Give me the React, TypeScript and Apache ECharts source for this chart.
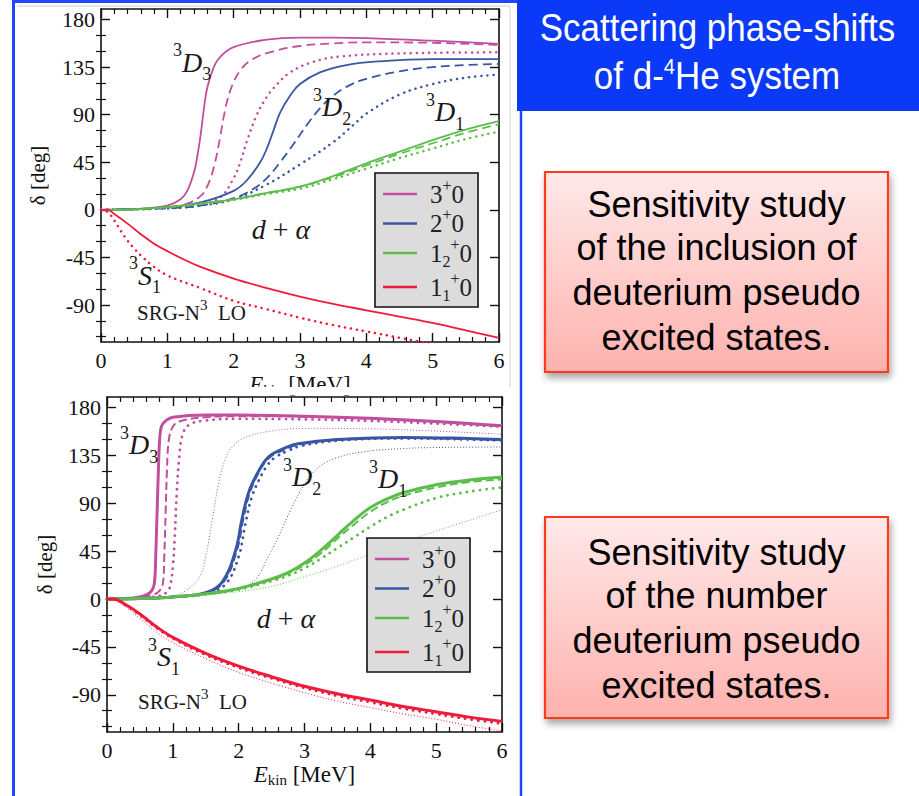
import React, { useEffect, useRef } from "react";
import * as echarts from "echarts";

const SERIF = '"Liberation Serif", "Times New Roman", serif';
const SANS = '"Liberation Sans", Arial, Helvetica, sans-serif';

const MAG = "#c24f9e";
const BLU = "#3a55a4";
const GRN = "#5dbd4b";
const RED = "#ee1b3a";

const xTicks = [0, 1, 2, 3, 4, 5, 6];
const yMajor = [-90, -45, 0, 45, 90, 135, 180];
const yMinor = [-120, -105, -75, -60, -30, -15, 15, 30, 60, 75, 105, 120, 150, 165];
const legendNames = ["3+0", "2+0", "1_2+0", "1_1+0"];

// ---------- top panel (inclusion of pseudo states) ----------
const topD3Solid = [[0, 0], [0.5, 0.5], [1.0, 4], [1.2, 10], [1.3, 18], [1.4, 35], [1.45, 50], [1.5, 70], [1.55, 95], [1.6, 115], [1.7, 135], [1.8, 145], [2.0, 154], [2.5, 161], [3.0, 163], [3.5, 163], [4.0, 162.5], [5.0, 160], [6.0, 157]];
const topD3Dashed = [[0, 0], [1, 2], [1.3, 6], [1.5, 13], [1.6, 22], [1.7, 40], [1.8, 70], [1.85, 88], [1.95, 113], [2.1, 132], [2.3, 143], [2.6, 150], [3.0, 155], [3.5, 157.5], [4, 158.5], [5, 158], [6, 156]];
const topD3Dotted = [[0, 0], [1, 1.5], [1.5, 5], [1.8, 12], [2.0, 30], [2.1, 45], [2.2, 65], [2.35, 90], [2.5, 107], [2.6, 115], [2.85, 130], [3.2, 140], [3.6, 145], [4.5, 148], [6, 149]];
const topD2Solid = [[0, 0], [1, 2.5], [1.5, 7], [2.0, 18], [2.2, 28], [2.4, 45], [2.5, 58], [2.6, 75], [2.7, 92], [2.85, 108], [3.0, 119], [3.3, 130], [3.7, 137], [4.2, 140.5], [5, 142.5], [6, 142.5]];
const topD2Dashed = [[0, 0], [1, 1.5], [1.5, 4], [2.0, 11], [2.3, 20], [2.5, 30], [2.7, 45], [2.9, 62], [3.1, 80], [3.3, 96], [3.5, 108], [3.75, 118], [4.0, 124], [4.5, 131], [5, 135], [5.5, 137], [6, 138]];
const topD2Dotted = [[0, 0], [1, 1.5], [1.5, 4], [2.0, 10], [2.5, 24], [3.0, 43], [3.5, 64], [3.8, 80], [4.0, 91], [4.5, 109], [5.0, 119], [5.5, 125], [6.0, 128]];
const topD1Solid = [[0, 0], [0.5, 0.5], [1, 2.5], [1.5, 6], [2, 10], [2.5, 16], [3, 22], [3.5, 32], [4, 44], [4.5, 55], [5, 66], [5.5, 76], [6, 84]];
const topD1Dashed = [[0, 0], [0.5, 0.5], [1, 2.5], [1.5, 6], [2, 10], [2.5, 16], [3, 22], [3.5, 31], [4, 42], [4.5, 53], [5, 63], [5.5, 73], [6, 81]];
const topD1Dotted = [[0, 0], [0.5, 0.5], [1, 2.5], [1.5, 5.5], [2, 9.5], [2.5, 15], [3, 20], [3.5, 29], [4, 39], [4.5, 49], [5, 58], [5.5, 67], [6, 74]];
const topS1Solid = [[0, 0], [0.1, 0], [0.2, -4], [0.4, -13], [0.6, -23], [0.8, -32], [1.0, -39], [1.25, -47], [1.5, -54], [2.0, -65], [2.5, -74], [3.0, -82], [3.5, -89], [4.0, -95], [4.5, -101], [5.0, -107], [5.5, -114], [6.0, -121]];
const topS1Dotted = [[0, 0], [0.1, -2], [0.2, -10], [0.3, -20], [0.4, -29], [0.5, -36.5], [0.6, -43], [0.75, -51.5], [1.0, -62], [1.5, -74], [2.0, -86], [2.5, -94], [3.0, -102], [3.5, -109], [4.0, -115], [4.5, -121], [5.0, -127], [5.5, -133], [6.0, -138]];

// ---------- bottom panel (number of pseudo states) ----------
const botD3Solid = [[0, 0], [0.3, 0.5], [0.5, 2], [0.6, 4], [0.68, 8], [0.72, 15], [0.74, 40], [0.76, 80], [0.78, 120], [0.8, 150], [0.83, 163], [0.9, 168], [1.0, 171], [1.5, 173], [2.0, 173], [3.0, 172], [4.0, 170], [5.0, 167], [6.0, 163]];
const botD3Dashed = [[0, 0], [0.5, 1.5], [0.7, 4], [0.8, 8], [0.85, 15], [0.87, 40], [0.89, 80], [0.91, 120], [0.94, 150], [1.0, 162], [1.1, 167], [1.5, 171], [2, 172], [3, 171.5], [4, 169.5], [5, 166.5], [6, 162.5]];
const botD3Dotted = [[0, 0], [0.5, 1], [0.8, 3], [0.9, 6], [0.95, 10], [1.0, 30], [1.03, 60], [1.06, 100], [1.1, 135], [1.15, 155], [1.25, 164], [1.5, 168], [2, 169.5], [3, 169], [4, 167.5], [5, 165], [6, 162]];
const botD3Thin = [[0, 0], [0.5, 1], [1.0, 3], [1.2, 8], [1.4, 20], [1.5, 40], [1.6, 75], [1.7, 110], [1.8, 132], [1.9, 143], [2.1, 152], [2.5, 158], [3, 160.5], [4, 160], [5, 158], [6, 155]];
const botD2Solid = [[0, 0], [0.5, 0.5], [1, 2], [1.5, 6], [1.75, 16], [1.95, 45], [2.05, 75], [2.15, 100], [2.3, 120], [2.4, 130], [2.5, 136], [2.7, 142], [2.9, 146], [3.5, 150], [4.5, 152], [5.5, 151], [6, 150]];
const botD2Dashed = [[0, 0], [0.5, 0.5], [1, 2], [1.5, 5.5], [1.77, 16], [1.97, 45], [2.07, 75], [2.17, 100], [2.32, 121], [2.42, 130], [2.52, 135.5], [2.72, 141], [2.9, 145], [3.5, 150], [4.5, 151.5], [5.5, 150.5], [6, 149.5]];
const botD2Dotted = [[0, 0], [0.5, 0.5], [1, 2], [1.5, 5], [1.8, 14], [2.0, 40], [2.1, 70], [2.2, 96], [2.35, 117], [2.45, 127], [2.55, 133], [2.75, 139.5], [2.95, 144], [3.5, 149], [4.5, 151], [5.5, 150], [6, 149]];
const botD2Thin = [[0, 0], [1, 2], [1.5, 5], [2.0, 10], [2.25, 18], [2.45, 40], [2.6, 58], [2.8, 85], [3.0, 108], [3.2, 123], [3.45, 132], [3.9, 138.5], [4.5, 141.5], [5, 142.5], [6, 143]];
const botD1Solid = [[0, 0], [0.5, 0.5], [1, 2], [1.5, 5], [2, 10], [2.5, 19], [2.75, 25], [3.0, 34], [3.25, 46], [3.5, 60], [3.75, 74], [4, 86], [4.25, 94], [4.5, 100], [5, 107.5], [5.5, 112], [6, 114.5]];
const botD1Dashed = [[0, 0], [0.5, 0.5], [1, 2], [1.5, 5], [2, 10], [2.5, 18], [2.75, 24], [3.0, 32], [3.25, 43], [3.5, 57], [3.75, 70], [4, 82], [4.25, 91], [4.5, 97], [5, 105], [5.5, 110], [6, 112.5]];
const botD1Dotted = [[0, 0], [0.5, 0.5], [1, 2], [1.5, 4.5], [2, 9], [2.5, 17], [2.75, 22], [3, 29], [3.25, 38], [3.5, 48], [3.75, 58], [4, 68], [4.25, 77], [4.5, 84], [5, 95], [5.5, 101], [6, 105]];
const botD1Thin = [[0, 0], [1, 1.5], [2, 7], [2.5, 12], [3, 21], [3.5, 31], [4, 42], [4.5, 53], [5, 64], [5.5, 74], [6, 84]];
const botS1Solid = [[0, 0], [0.1, 0], [0.25, -4], [0.5, -14], [0.75, -26], [1.0, -36], [1.5, -51], [2.0, -63], [2.5, -73], [3.0, -82], [3.5, -89], [4.0, -95], [4.5, -101], [5.0, -106], [5.5, -111], [6.0, -115]];
const botS1Dotted = [[0, 0], [0.1, 0], [0.25, -4.5], [0.5, -15], [0.75, -27], [1.0, -37], [1.5, -52.5], [2.0, -64.5], [2.5, -74.5], [3.0, -83.5], [3.5, -91], [4.0, -97], [4.5, -103], [5.0, -108], [5.5, -113], [6.0, -117]];
const botS1Thin = [[0, 0], [0.1, -0.5], [0.25, -6], [0.5, -18], [0.75, -31], [1.0, -41], [1.5, -56], [2.0, -69], [2.5, -79], [3.0, -88], [3.5, -96], [4.0, -102], [4.5, -108], [5.0, -113], [5.5, -119], [6.0, -124]];

const TOP_SOLID = { width: 1.8, type: "solid" };
const TOP_DASH = { width: 1.8, type: [9, 5] };
const TOP_DOT = { width: 2.5, type: [0.1, 6], cap: "round" };
const BOT_SOLID = { width: 3, type: "solid" };
const BOT_DASH = { width: 2, type: [8, 4] };
const BOT_DOT = { width: 2.8, type: [0.1, 6.5], cap: "round" };
const BOT_THIN = { width: 1, type: [1, 2] };

function line(name: string, data: number[][], xi: number, yi: number, color: string, ls: any) {
  return {
    type: "line", name, data, xAxisIndex: xi, yAxisIndex: yi, symbol: "none", showSymbol: false,
    smooth: 0.4, silent: true,
    itemStyle: { color }, lineStyle: { color, ...ls },
  };
}

function xAxes(grid: number, nameGap: number) {
  const common = {
    gridIndex: grid, type: "value", min: 0, max: 6, interval: 1,
    axisLine: { show: true, onZero: false, lineStyle: { color: "#111", width: 1.6 } },
    axisTick: { show: true, inside: true, length: 9, lineStyle: { color: "#111", width: 1.4 } },
    minorTick: { show: true, splitNumber: 5, length: 5, lineStyle: { color: "#111", width: 1.2 } },
    splitLine: { show: false }, minorSplitLine: { show: false },
  };
  return [
    {
      ...common, position: "bottom",
      axisLabel: { show: true, fontFamily: SERIF, fontSize: 22, color: "#111", margin: 7, customValues: xTicks },
      name: "{i|E}{s|kin} [MeV]", nameLocation: "middle", nameGap,
      nameTextStyle: {
        fontFamily: SERIF, fontSize: 23, color: "#111", lineHeight: 26,
        rich: {
          i: { fontFamily: SERIF, fontSize: 23, fontStyle: "italic", color: "#111", lineHeight: 26 },
          s: { fontFamily: SERIF, fontSize: 15, color: "#111", lineHeight: 14, verticalAlign: "bottom" },
        },
      },
    },
    { ...common, position: "top", axisLabel: { show: false } },
  ];
}

function yAxes(grid: number, nameGap: number) {
  const common = {
    gridIndex: grid, type: "value", min: -125, max: 190,
    splitLine: { show: false },
  };
  const major = {
    show: true, inside: true, length: 9, customValues: yMajor, lineStyle: { color: "#111", width: 1.4 },
  };
  const minor = {
    show: true, inside: true, length: 5, customValues: yMinor, lineStyle: { color: "#111", width: 1.2 },
  };
  return [
    {
      ...common, position: "left",
      axisLine: { show: true, onZero: false, lineStyle: { color: "#111", width: 1.6 } },
      axisTick: major,
      axisLabel: { show: true, customValues: yMajor, fontFamily: SERIF, fontSize: 22, color: "#111", margin: 6 },
      name: "δ [deg]", nameLocation: "middle", nameRotate: 90, nameGap,
      nameTextStyle: { fontFamily: SERIF, fontSize: 21, color: "#111" },
    },
    { ...common, position: "left", axisLine: { show: false }, axisTick: minor, axisLabel: { show: false } },
    {
      ...common, position: "right",
      axisLine: { show: true, onZero: false, lineStyle: { color: "#111", width: 1.6 } },
      axisTick: major, axisLabel: { show: false },
    },
    { ...common, position: "right", axisLine: { show: false }, axisTick: minor, axisLabel: { show: false } },
  ];
}

const INK = "#1a1a1a";
const annRich = {
  p: { fontFamily: SERIF, fontSize: 18, fill: INK, color: INK, lineHeight: 18, verticalAlign: "top" },
  d: { fontFamily: SERIF, fontSize: 28, fontStyle: "italic", fill: INK, color: INK, lineHeight: 42 },
  b: { fontFamily: SERIF, fontSize: 18, fill: INK, color: INK, lineHeight: 18, verticalAlign: "bottom" },
  n: { fontFamily: SERIF, fontSize: 21, fill: INK, color: INK, lineHeight: 32 },
  q: { fontFamily: SERIF, fontSize: 15, fill: INK, color: INK, lineHeight: 15, verticalAlign: "top" },
  i: { fontFamily: SERIF, fontSize: 28, fontStyle: "italic", fill: INK, color: INK, lineHeight: 30 },
  m: { fontFamily: SERIF, fontSize: 28, fill: INK, color: INK, lineHeight: 30 },
};

function rt(x: number, y: number, text: string, align = "left") {
  return {
    type: "text", x, y, z: 100, silent: true,
    style: {
      text, fill: INK, fontFamily: SERIF, fontSize: 21, rich: annRich,
      align, verticalAlign: "middle", textAlign: align, textVerticalAlign: "middle",
    },
  };
}

// superscript 3, letter, subscript
function wave(x: number, y: number, letter: string, sub: string) {
  return rt(x, y, `{p|3}{d|${letter}}{b|${sub}}`);
}
function dAlpha(cx: number, cy: number) {
  return rt(cx, cy, "{i|d}{m| + }{i|α}", "center");
}
function srg(x: number, y: number) {
  return rt(x, y, "{n|SRG-N}{q|3}{n|  LO}");
}

function centerText(cx: number, cy: number, text: string, size: number, fill: string, scaleX = 1, rich?: any) {
  return {
    type: "text", x: cx, y: cy, scaleX, z: 60, silent: true,
    style: {
      text, fill, fontFamily: SANS, fontSize: size,
      align: "center", verticalAlign: "middle", textAlign: "center", textVerticalAlign: "middle",
      ...(rich ? { rich } : {}),
    },
  };
}

function redBox(y: number, h: number, lines: string[], centers: number[]) {
  return [
    {
      type: "rect", z: 50, silent: true,
      shape: { x: 545, y, width: 343, height: h },
      style: {
        fill: {
          type: "linear", x: 0, y: 0, x2: 0, y2: 1,
          colorStops: [{ offset: 0, color: "#fee9e9" }, { offset: 1, color: "#feb2ae" }],
        },
        stroke: "#ff3a1c", lineWidth: 2.2,
        shadowBlur: 7, shadowOffsetX: 2, shadowOffsetY: 5, shadowColor: "rgba(0,0,0,0.35)",
      },
    },
    ...lines.map((t, i) => centerText(716.5, centers[i], t, 36, "#000")),
  ];
}

const legendRich = {
  f: { fontFamily: SERIF, fontSize: 25, color: "#222", lineHeight: 34, padding: [0, 0, 0, 8] },
  n: { fontFamily: SERIF, fontSize: 25, color: "#222", lineHeight: 34 },
  p: { fontFamily: SERIF, fontSize: 16, color: "#222", lineHeight: 16, verticalAlign: "top" },
  b: { fontFamily: SERIF, fontSize: 16, color: "#222", lineHeight: 16, verticalAlign: "bottom" },
};
const legendLabels: Record<string, string> = {
  "3+0": "{f|3}{p|+}{n|0}",
  "2+0": "{f|2}{p|+}{n|0}",
  "1_2+0": "{f|1}{b|2}{p|+}{n|0}",
  "1_1+0": "{f|1}{b|1}{p|+}{n|0}",
};

function legend(left: number, top: number) {
  return {
    data: legendNames, left, top, orient: "vertical", selectedMode: false,
    backgroundColor: "#dcdcdc", borderColor: "#111", borderWidth: 1.6, borderRadius: 0,
    padding: [4, 6, 3, 8], itemWidth: 34, itemHeight: 2.6, itemGap: 0, icon: "rect",
    textStyle: { fontFamily: SERIF, fontSize: 25, color: "#222", rich: legendRich },
    formatter: (name: string) => legendLabels[name] || name,
  };
}

export default function App() {
  const ref = useRef<HTMLDivElement>(null);
  useEffect(() => {
    document.body.style.margin = "0";
    const chart = echarts.init(ref.current!, null, { renderer: "svg", width: 919, height: 796 });
    const series = [
      // top
      line("3+0", topD3Solid, 0, 0, MAG, TOP_SOLID),
      line("3+0 b", topD3Dashed, 0, 0, MAG, TOP_DASH),
      line("3+0 c", topD3Dotted, 0, 0, MAG, TOP_DOT),
      line("2+0", topD2Solid, 0, 0, BLU, TOP_SOLID),
      line("2+0 b", topD2Dashed, 0, 0, BLU, TOP_DASH),
      line("2+0 c", topD2Dotted, 0, 0, BLU, TOP_DOT),
      line("1_2+0", topD1Solid, 0, 0, GRN, TOP_SOLID),
      line("1_2+0 b", topD1Dashed, 0, 0, GRN, TOP_DASH),
      line("1_2+0 c", topD1Dotted, 0, 0, GRN, TOP_DOT),
      line("1_1+0", topS1Solid, 0, 0, RED, TOP_SOLID),
      line("1_1+0 c", topS1Dotted, 0, 0, RED, TOP_DOT),
      // bottom
      line("3+0", botD3Solid, 2, 4, MAG, BOT_SOLID),
      line("3+0 b", botD3Dashed, 2, 4, MAG, BOT_DASH),
      line("3+0 c", botD3Dotted, 2, 4, MAG, BOT_DOT),
      line("3+0 d", botD3Thin, 2, 4, MAG, BOT_THIN),
      line("2+0", botD2Solid, 2, 4, BLU, BOT_SOLID),
      line("2+0 b", botD2Dashed, 2, 4, BLU, BOT_DASH),
      line("2+0 c", botD2Dotted, 2, 4, BLU, BOT_DOT),
      line("2+0 d", botD2Thin, 2, 4, BLU, BOT_THIN),
      line("1_2+0", botD1Solid, 2, 4, GRN, BOT_SOLID),
      line("1_2+0 b", botD1Dashed, 2, 4, GRN, BOT_DASH),
      line("1_2+0 c", botD1Dotted, 2, 4, GRN, BOT_DOT),
      line("1_2+0 d", botD1Thin, 2, 4, GRN, BOT_THIN),
      line("1_1+0", botS1Solid, 2, 4, RED, BOT_SOLID),
      line("1_1+0 c", botS1Dotted, 2, 4, RED, BOT_DOT),
      line("1_1+0 d", botS1Thin, 2, 4, RED, BOT_THIN),
    ];

    const graphics: any[] = [
      // slide frame
      { type: "line", z: 40, silent: true, shape: { x1: 13.5, y1: 0, x2: 13.5, y2: 796 }, style: { stroke: "#1f47ff", lineWidth: 3 } },
      { type: "line", z: 40, silent: true, shape: { x1: 13, y1: 1.5, x2: 518, y2: 1.5 }, style: { stroke: "#1f47ff", lineWidth: 3 } },
      { type: "line", z: 40, silent: true, shape: { x1: 521, y1: 110, x2: 521, y2: 796 }, style: { stroke: "#1f47ff", lineWidth: 2.5 } },
      { type: "line", z: 40, silent: true, shape: { x1: 17, y1: 6, x2: 510, y2: 6 }, style: { stroke: "#dedede", lineWidth: 1.5 } },
      { type: "line", z: 40, silent: true, shape: { x1: 510, y1: 6, x2: 510, y2: 387 }, style: { stroke: "#e2e2e2", lineWidth: 1.5 } },
      // crop of the upper picture
      { type: "rect", z: 45, silent: true, shape: { x: 16, y: 387, width: 503, height: 8 }, style: { fill: "#ffffff" } },
      // title box
      { type: "rect", z: 50, silent: true, shape: { x: 517, y: 0, width: 402, height: 111 }, style: { fill: "#0a39f7" } },
      centerText(717.5, 28, "Scattering phase-shifts", 38, "#ffffff", 0.92),
      centerText(717, 76, "{a|of d-}{s|4}{a|He system}", 38, "#ffffff", 0.92, {
        a: { fontFamily: SANS, fontSize: 38, fill: "#ffffff", color: "#ffffff", lineHeight: 42 },
        s: { fontFamily: SANS, fontSize: 22, fill: "#ffffff", color: "#ffffff", lineHeight: 26, verticalAlign: "top" },
      }),
      ...redBox(172, 200, ["Sensitivity study", "of the inclusion of", "deuterium pseudo", "excited states."], [204.5, 247.5, 292.5, 337.5]),
      ...redBox(517, 201, ["Sensitivity study", "of the number", "deuterium pseudo", "excited states."], [552.5, 595.5, 640.5, 685.5]),
      // top panel annotations
      wave(173, 62, "D", "3"),
      wave(313, 106.5, "D", "2"),
      wave(426, 111.5, "D", "1"),
      wave(129, 275, "S", "1"),
      dAlpha(281, 229),
      srg(137, 313),
      // bottom panel annotations
      wave(120, 444.5, "D", "3"),
      wave(283, 476.5, "D", "2"),
      wave(369, 478.5, "D", "1"),
      wave(148, 656.5, "S", "1"),
      dAlpha(286, 618),
      srg(138, 702),
    ];

    chart.setOption({
      animation: false,
      backgroundColor: "#ffffff",
      grid: [
        { left: 101, top: 9, width: 398, height: 333, containLabel: false },
        { left: 107, top: 397, width: 395, height: 335, containLabel: false },
      ],
      xAxis: [...xAxes(0, 25), ...xAxes(1, 28)],
      yAxis: [...yAxes(0, 53), ...yAxes(1, 52)],
      legend: [legend(375, 173), legend(367, 538)],
      series,
      graphic: { elements: graphics },
    });
    return () => chart.dispose();
  }, []);
  return <div ref={ref} style={{ width: 919, height: 796 }} />;
}
